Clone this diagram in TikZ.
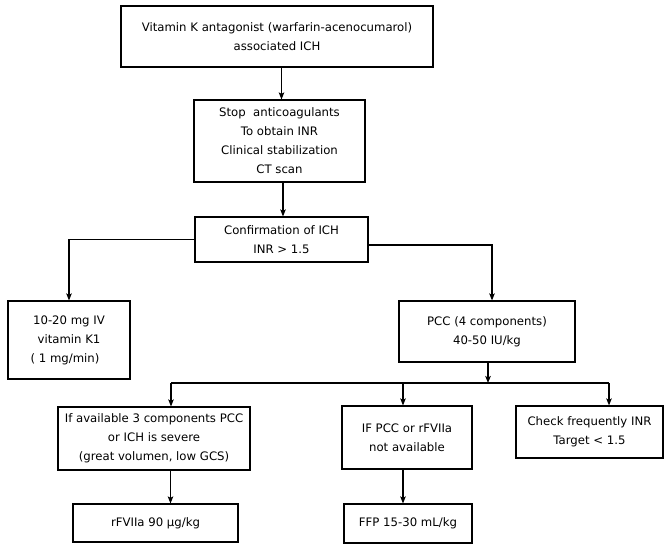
\documentclass[tikz,border=0pt]{standalone}
\usepackage{fontspec}
\setmainfont{DejaVu Sans}
\usetikzlibrary{arrows.meta}
\begin{document}
\begin{tikzpicture}[x=1pt,y=-1pt,
  box/.style={draw=black,line width=1.2pt,align=center,inner sep=0pt,
    font=\fontsize{11.7}{19}\selectfont},
  arr/.style={line width=1.1pt,-{Stealth[length=7pt,width=5.5pt,inset=1.5pt]}},
  ln/.style={line width=1.1pt}]
\useasboundingbox[fill=white] (0,0) rectangle (670,550);
\node[box,minimum width=312pt,minimum height=61pt] (b1) at (277,36.5)
  {Vitamin K antagonist (warfarin-acenocumarol)\\associated ICH};
\node[box,minimum width=171pt,minimum height=82pt] (b2) at (279.5,141)
  {Stop\ \ anticoagulants\\To obtain INR\\Clinical stabilization\\CT scan};
\node[box,minimum width=173pt,minimum height=45pt] (b3) at (281.5,239.5)
  {Confirmation of ICH\\INR {>} 1.5};
\node[box,minimum width=122pt,minimum height=78pt] (b4) at (69,340)
  {10-20 mg IV\\vitamin K1\\( 1 mg/min)\hspace*{8pt}};
\node[box,minimum width=176pt,minimum height=61pt] (b5) at (487,331.5)
  {PCC (4 components)\\40-50 IU/kg};
\node[box,minimum width=192pt,minimum height=63pt] (b6) at (154,438.5)
  {If available 3 components PCC\\or ICH is severe\\(great volumen, low GCS)};
\node[box,minimum width=130pt,minimum height=63pt] (b7) at (407,437.5)
  {IF PCC or rFVIIa\\not available};
\node[box,minimum width=147pt,minimum height=52pt] (b8) at (589.5,432)
  {Check frequently INR\\Target {<} 1.5};
\node[box,minimum width=165pt,minimum height=38pt] (b9) at (155.5,523)
  {rFVIIa 90 μg/kg};
\node[box,minimum width=128pt,minimum height=39pt] (b10) at (408,523.5)
  {FFP 15-30 mL/kg};
\coordinate (split) at (488,383);
% connectors
\draw[arr] ([xshift=2pt]b2.north |- b1.south) -- ([xshift=2pt]b2.north);
\draw[arr] ([xshift=1.5pt]b3.north |- b2.south) -- ([xshift=1.5pt]b3.north);
\draw[arr] (b3.west) -| (b4.north);
\draw[arr] ([yshift=-5.5pt]b3.east) -| ([xshift=5pt]b5.north);
\draw[arr] (b5.south -| split) -- (split);
\draw[ln] ([xshift=17pt]b6.north |- split) -- ([xshift=19.5pt]b8.north |- split);
\draw[arr] ([xshift=17pt]b6.north |- split) -- ([xshift=17pt]b6.north);
\draw[arr] ([xshift=-4pt]b7.north |- split) -- ([xshift=-4pt]b7.north);
\draw[arr] ([xshift=19.5pt]b8.north |- split) -- ([xshift=19.5pt]b8.north);
\draw[arr] ([xshift=15pt]b9.north |- b6.south) -- ([xshift=15pt]b9.north);
\draw[arr] ([xshift=-5pt]b10.north |- b7.south) -- ([xshift=-5pt]b10.north);
\end{tikzpicture}
\end{document}
